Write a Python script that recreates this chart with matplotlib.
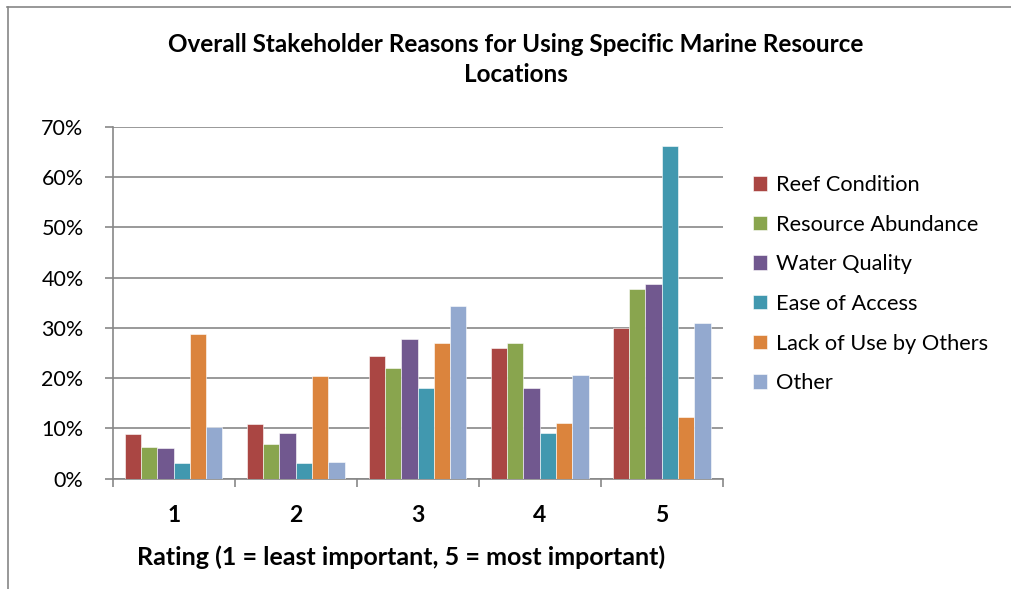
import matplotlib
matplotlib.use("Agg")
import matplotlib.pyplot as plt
import numpy as np
from matplotlib.lines import Line2D

categories = ["1", "2", "3", "4", "5"]
series_names = ["Reef Condition", "Resource Abundance", "Water Quality",
                "Ease of Access", "Lack of Use by Others", "Other"]
reef_condition = [8.8, 10.8, 24.5, 25.9, 29.9]
resource_abundance = [6.3, 6.9, 22.0, 26.9, 37.7]
water_quality = [6.2, 9.0, 27.7, 18.1, 38.7]
ease_of_access = [3.2, 3.2, 18.0, 9.1, 66.2]
lack_of_use = [28.7, 20.5, 27.0, 11.1, 12.3]
other = [10.3, 3.4, 34.4, 20.7, 31.0]
yticks = [0, 10, 20, 30, 40, 50, 60, 70]

series = [reef_condition, resource_abundance, water_quality,
          ease_of_access, lack_of_use, other]
colors = ["#AA4643", "#89A54E", "#71588F", "#4198AF", "#DB843D", "#93A9CF"]

FONT = "Lato"
W, H = 1011, 589
fig = plt.figure(figsize=(W / 100, H / 100), dpi=100)

# outer chart border (top and left only visible)
fig.add_artist(Line2D([7 / W, 1], [1 - 6.5 / H, 1 - 6.5 / H], color="#868686", lw=1.2, transform=fig.transFigure))
fig.add_artist(Line2D([7.5 / W, 7.5 / W], [0, 1 - 6.5 / H], color="#868686", lw=1.2, transform=fig.transFigure))

left, right, top, bottom = 112.7, 722.7, 126.7, 478.7
ax = fig.add_axes([left / W, 1 - bottom / H, (right - left) / W, (bottom - top) / H])

x = np.arange(len(categories))
n = len(series)
bw = 0.8 / n
for i, (vals, c, name) in enumerate(zip(series, colors, series_names)):
    ax.bar(x - 0.4 + bw * (i + 0.5), vals, width=bw, color=c, label=name,
           edgecolor="white", linewidth=0.4, zorder=3)

ax.set_xlim(-0.5, len(categories) - 0.5)
ax.set_ylim(0, 70)
ax.set_yticks(yticks)
ax.set_yticklabels([f"{v}%" for v in yticks], fontsize=15.5, family=FONT)
ax.yaxis.grid(True, color="#878787", linewidth=1.2, zorder=0)
ax.set_axisbelow(True)

ax.set_xticks(x)
ax.set_xticklabels(categories, fontsize=16.5, fontweight="bold", family=FONT)
ax.set_xticks(np.arange(-0.5, len(categories)), minor=True)
ax.tick_params(axis="x", which="major", length=0, pad=19)
ax.tick_params(axis="x", which="minor", length=6, color="#878787", width=1.2)
ax.tick_params(axis="y", length=6, color="#878787", width=1.2, pad=15)

for s in ["top", "right"]:
    ax.spines[s].set_visible(False)
for s in ["left", "bottom"]:
    ax.spines[s].set_color("#878787")
    ax.spines[s].set_linewidth(1.2)

fig.text(515.5 / W, 1 - 45 / H, "Overall Stakeholder Reasons for Using Specific Marine Resource",
         ha="center", va="center", fontsize=17.5, fontweight="bold", family=FONT)
fig.text(515.5 / W, 1 - 75 / H, "Locations",
         ha="center", va="center", fontsize=17.5, fontweight="bold", family=FONT)
fig.text(401.5 / W, 1 - 557 / H, "Rating (1 = least important, 5 = most important)",
         ha="center", va="center", fontsize=18, fontweight="bold", family=FONT)

leg = fig.legend(loc="upper left", bbox_to_anchor=(753 / W, 1 - 175 / H),
                 frameon=False, prop={"family": FONT, "size": 15.7},
                 handlelength=0.65, handleheight=0.65, handletextpad=0.4,
                 labelspacing=0.9, borderaxespad=0, borderpad=0)

fig.savefig("out.png", dpi=100)
